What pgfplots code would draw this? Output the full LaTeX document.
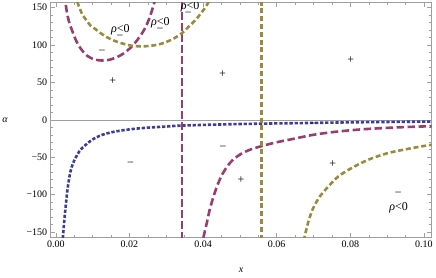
\documentclass[border=0pt]{standalone}
\usepackage{fontspec}
\setmainfont{Liberation Serif}
\usepackage{pgfplots}
\pgfplotsset{compat=1.18}
\definecolor{mblue}{rgb}{0.24,0.24,0.6}
\definecolor{mmag}{rgb}{0.6,0.24,0.442}
\definecolor{mgold}{rgb}{0.6,0.547,0.24}
\begin{document}
\begin{tikzpicture}
\begin{axis}[
  scale only axis, width=381pt, height=235pt,
  xmin=-0.0014, xmax=0.1021, ymin=-157, ymax=157,
  xtick={0,0.02,0.04,0.06,0.08,0.1},
  xticklabels={0.00,0.02,0.04,0.06,0.08,0.10},
  ytick={-150,-100,-50,0,50,100,150},
  yticklabels={−150,−100,−50,0,50,100,150},
  scaled x ticks=false, scaled y ticks=false,
  minor x tick num=3, minor y tick num=4,
  tick align=inside,
  major tick length=4.5pt, minor tick length=2.5pt,
  axis line style={gray!75, line width=0.5pt},
  tick style={gray!75, line width=0.5pt},
  ticklabel style={font=\fontsize{10}{12}\selectfont, text=black},
  xlabel={\textit{x}},
  xlabel style={at={(axis description cs:0.5,-0.139)}, anchor=center, font=\fontsize{10}{12}\selectfont},
  ylabel={\textit{α}},
  ylabel style={rotate=-90, at={(axis description cs:-0.12,0.5)}, anchor=center, font=\fontsize{10}{12}\selectfont},
]
\addplot[gray!75, line width=0.5pt, forget plot] coordinates {(-0.01,0) (0.11,0)};
% blue
\addplot[mblue, line width=2.6pt, dash pattern=on 3.3pt off 1.8pt, smooth] coordinates {
(0.0018,-172) (0.0019,-158) (0.00244,-127) (0.00309,-96) (0.0035,-82) (0.00398,-69)
(0.0046,-59) (0.00534,-51) (0.0064,-42) (0.00759,-35.7) (0.00986,-26.7) (0.01257,-20.1)
(0.01618,-15.6) (0.0207,-12.4) (0.0250,-10.5) (0.0300,-9.0) (0.0338,-7.8) (0.045,-6.2)
(0.0550,-5.2) (0.0663,-4.4) (0.080,-3.4) (0.090,-2.9) (0.1025,-2.3)};
% magenta
\addplot[mmag, line width=2.6pt, dash pattern=on 7.5pt off 3.5pt, smooth] coordinates {
(0.0024,168) (0.00263,156) (0.0031,141) (0.0037,129) (0.00444,119) (0.0053,108)
(0.00623,99) (0.0074,91) (0.00851,85.5) (0.0100,81.5) (0.01165,79.5) (0.0132,79.3)
(0.0148,80.5) (0.0165,83.5) (0.0182,88) (0.0200,95) (0.0218,104.5) (0.0234,115.5)
(0.0245,125) (0.0255,137) (0.0263,149) (0.0270,161) (0.0276,172)};
\addplot[mmag, line width=2.6pt, dash pattern=on 7.5pt off 3.5pt] coordinates {
(0.03425,-160) (0.03425,160)};
\addplot[mmag, line width=2.6pt, dash pattern=on 7.5pt off 3.5pt, smooth] coordinates {
(0.0396,-172) (0.0401,-157) (0.0410,-138) (0.0419,-118) (0.0430,-100) (0.0440,-86)
(0.0452,-73) (0.0466,-62) (0.0482,-53) (0.0505,-45) (0.0530,-39.5) (0.0560,-35)
(0.0600,-30) (0.0645,-25.5) (0.0700,-20) (0.0760,-16) (0.0830,-12.8) (0.0900,-10.8)
(0.0960,-9.5) (0.1025,-8.5)};
% olive
\addplot[mgold, line width=2.6pt, dash pattern=on 5pt off 2.8pt, smooth] coordinates {
(0.0055,168) (0.0058,158) (0.0065,149) (0.00715,141) (0.0083,133) (0.0094,126)
(0.0108,121) (0.0121,116) (0.0135,111.5) (0.0148,108) (0.0165,104.5) (0.0184,101.5)
(0.0200,99.5) (0.0215,98.5) (0.0230,98.2) (0.0250,98.5) (0.0278,100.5) (0.0300,104)
(0.0320,108.5) (0.0343,116) (0.0365,126.5) (0.0380,133.5) (0.0392,141) (0.0403,148)
(0.0412,155) (0.0420,162) (0.0428,170)};
\addplot[mgold, line width=2.6pt, dash pattern=on 5pt off 2.8pt] coordinates {
(0.0559,-160) (0.0559,160)};
\addplot[mgold, line width=2.6pt, dash pattern=on 5pt off 2.8pt, smooth] coordinates {
(0.0672,-172) (0.0675,-158) (0.0686,-136) (0.0699,-118) (0.0717,-102.6) (0.0740,-89.2)
(0.0767,-75.8) (0.0803,-64.6) (0.0848,-53.5) (0.0902,-44.5) (0.0957,-38.8) (0.1002,-34.8)
(0.1025,-33.2)};
% annotations
\begin{scope}[every node/.style={font=\fontsize{12}{14}\selectfont, inner sep=0pt}]
\node at (axis cs:0.01257,90.5) {−};
\node at (axis cs:0.01753,120.4) {\textit{ρ}<0};
\node at (axis cs:0.01740,110.0) {−};
\node at (axis cs:0.02837,130.1) {\textit{ρ}<0};
\node at (axis cs:0.02830,119.8) {−};
\node at (axis cs:0.0365,151.5) {\textit{ρ}<0};
\node at (axis cs:0.0360,141.2) {−};
\node at (axis cs:0.01545,51.2) {+};
\node at (axis cs:0.04526,61.5) {+};
\node at (axis cs:0.0801,80.2) {+};
\node at (axis cs:0.0699,-8.0) {−};
\node at (axis cs:0.0203,-59.2) {−};
\node at (axis cs:0.0454,-38.8) {−};
\node at (axis cs:0.0503,-80.2) {+};
\node at (axis cs:0.0752,-59.2) {+};
\node at (axis cs:0.0930,-99.4) {−};
\node at (axis cs:0.0931,-118.1) {\textit{ρ}<0};
\end{scope}
\end{axis}
\pgfresetboundingbox
\path ([shift={(-50.7pt,-40.7pt)}]current axis.south west) rectangle ([shift={(4.3pt,2.3pt)}]current axis.north east);
\end{tikzpicture}
\end{document}
